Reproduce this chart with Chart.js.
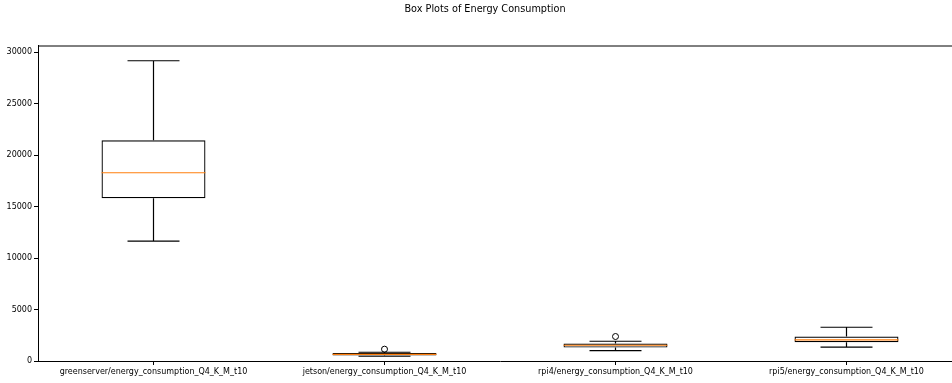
<!DOCTYPE html>
<html>
<head>
<meta charset="utf-8">
<script src="https://cdn.jsdelivr.net/npm/chart.js@4.4.1/dist/chart.umd.min.js"></script>
<style>
  html, body { margin: 0; padding: 0; background: #fff; overflow: hidden; }
  #wrap { width: 970px; height: 383px; position: relative; }
</style>
</head>
<body>
<div id="wrap"><canvas id="c" width="970" height="383"></canvas></div>
<script>
// Per-device energy consumption summary (box plot statistics)
const categories = [
  'greenserver/energy_consumption_Q4_K_M_t10',
  'jetson/energy_consumption_Q4_K_M_t10',
  'rpi4/energy_consumption_Q4_K_M_t10',
  'rpi5/energy_consumption_Q4_K_M_t10'
];
const whiskerLow  = [11650, 460, 1000, 1340];
const q1          = [15820, 540, 1300, 1820];
const median      = [18290, 640, 1530, 2050];
const q3          = [21440, 770, 1690, 2370];
const whiskerHigh = [29170, 850, 1920, 3280];
const outliers    = [[], [1150], [2380], []];
const yTicks      = [0, 5000, 10000, 15000, 20000, 25000, 30000];
const chartTitle  = 'Box Plots of Energy Consumption';

const FONT = 'DejaVu Sans';

// whiskers, caps and medians drawn on top of the box bars
const boxExtras = {
  id: 'boxExtras',
  afterDatasetsDraw(chart) {
    const ctx = chart.ctx;
    const xs = chart.scales.x, ys = chart.scales.y;
    const meta = chart.getDatasetMeta(0);
    ctx.save();
    categories.forEach((c, i) => {
      const el = meta.data[i];
      const cx = xs.getPixelForValue(i);
      const half = el.width / 2;
      const capHalf = half / 2;
      ctx.lineWidth = 1.2;
      ctx.strokeStyle = '#000';
      ctx.beginPath();
      ctx.moveTo(cx, ys.getPixelForValue(q3[i]));
      ctx.lineTo(cx, ys.getPixelForValue(whiskerHigh[i]));
      ctx.moveTo(cx, ys.getPixelForValue(q1[i]));
      ctx.lineTo(cx, ys.getPixelForValue(whiskerLow[i]));
      ctx.moveTo(cx - capHalf, ys.getPixelForValue(whiskerHigh[i]));
      ctx.lineTo(cx + capHalf, ys.getPixelForValue(whiskerHigh[i]));
      ctx.moveTo(cx - capHalf, ys.getPixelForValue(whiskerLow[i]));
      ctx.lineTo(cx + capHalf, ys.getPixelForValue(whiskerLow[i]));
      ctx.stroke();
      ctx.strokeStyle = '#ff7f0e';
      ctx.beginPath();
      const my = ys.getPixelForValue(median[i]);
      ctx.moveTo(cx - half, my);
      ctx.lineTo(cx + half, my);
      ctx.stroke();
    });
    ctx.restore();
  },
  afterDraw(chart) {
    const a = chart.chartArea, ctx = chart.ctx;
    ctx.save();
    // axes frame (top and right spines)
    ctx.strokeStyle = '#000';
    ctx.lineWidth = 1;
    ctx.beginPath();
    ctx.moveTo(a.left, a.top + 0.5);
    ctx.lineTo(a.right, a.top + 0.5);
    ctx.lineTo(a.right, a.bottom);
    ctx.stroke();
    // figure title, centred on the whole figure
    ctx.fillStyle = '#000';
    ctx.font = '9.7px "' + FONT + '"';
    ctx.textAlign = 'center';
    ctx.textBaseline = 'middle';
    ctx.fillText(chartTitle, chart.width / 2, 9.4);
    ctx.restore();
  }
};

const outlierPoints = [];
outliers.forEach((arr, i) => arr.forEach(v => outlierPoints.push({ x: categories[i], y: v })));

new Chart(document.getElementById('c'), {
  type: 'bar',
  data: {
    labels: categories,
    datasets: [
      {
        label: 'box',
        data: categories.map((c, i) => [q1[i], q3[i]]),
        backgroundColor: 'rgba(255,255,255,0)',
        borderColor: '#000',
        borderWidth: 1.2,
        borderSkipped: false,
        barPercentage: 0.45,
        categoryPercentage: 1.0,
        order: 2
      },
      {
        type: 'line',
        label: 'fliers',
        data: outlierPoints,
        showLine: false,
        pointStyle: 'circle',
        pointRadius: 3,
        pointBorderWidth: 1,
        pointBorderColor: '#000',
        pointBackgroundColor: 'rgba(255,255,255,0)',
        order: 1
      }
    ]
  },
  options: {
    responsive: false,
    animation: false,
    layout: { padding: { left: 0, right: 8, top: 45.5, bottom: 0 } },
    plugins: {
      legend: { display: false },
      tooltip: { enabled: false },
      title: { display: false }
    },
    scales: {
      x: {
        type: 'category',
        offset: true,
        grid: { display: true, drawOnChartArea: false, drawTicks: true, tickLength: 4, color: '#000', offset: false },
        border: { display: true, color: '#000', width: 1 },
        ticks: { color: '#000', font: { family: FONT, size: 8 }, padding: 2, maxRotation: 0, autoSkip: false },
        afterFit(s) { s.height = 22; }
      },
      y: {
        min: 0,
        max: 30650,
        afterBuildTicks(s) { s.ticks = yTicks.map(v => ({ value: v })); },
        grid: { display: true, drawOnChartArea: false, drawTicks: true, tickLength: 4, color: '#000' },
        border: { display: true, color: '#000', width: 1 },
        ticks: { color: '#000', font: { family: FONT, size: 8 }, padding: 2, callback: v => String(v) },
        afterFit(s) { s.width = 38; }
      }
    }
  },
  plugins: [boxExtras]
});
</script>
</body>
</html>
